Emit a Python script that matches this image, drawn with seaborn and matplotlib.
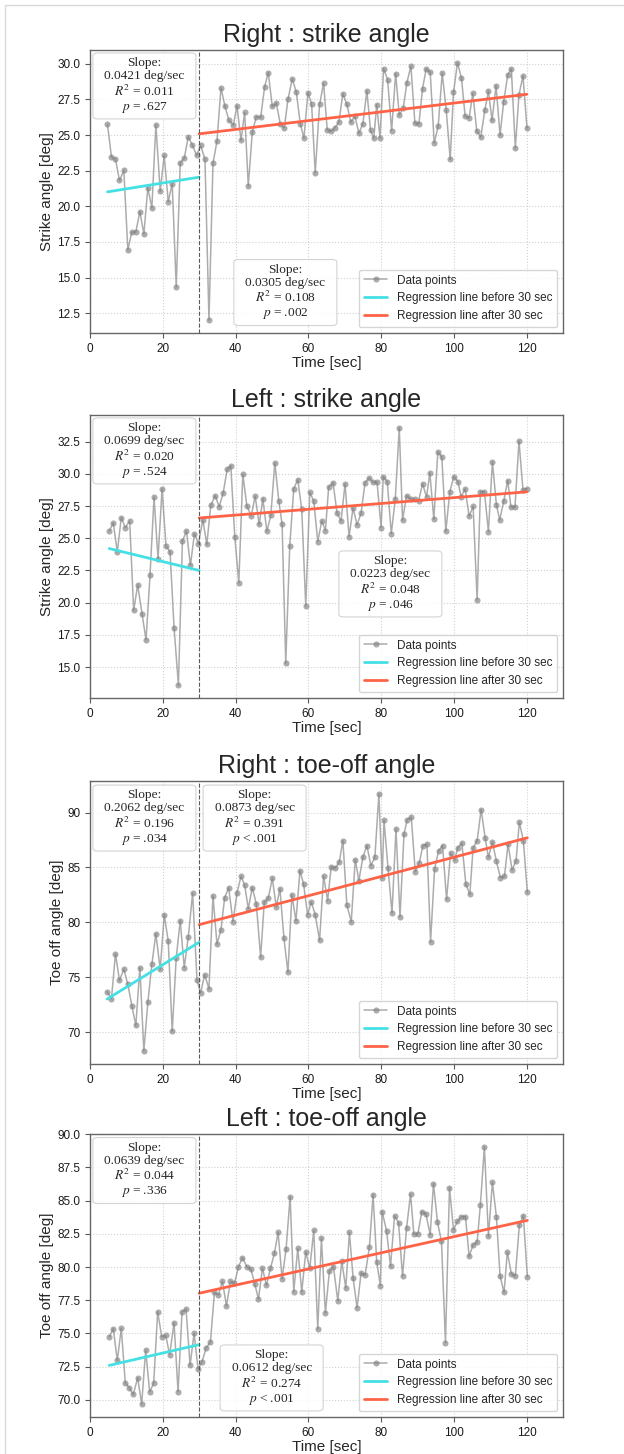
import numpy as np
import matplotlib
matplotlib.use('Agg')
import matplotlib.pyplot as plt
import matplotlib.patches as mpatches
import seaborn as sns

# values (time [sec], angle [deg])
right_strike_t = [4.8, 5.9, 7.0, 8.1, 9.3, 10.4, 11.5, 12.6, 13.7, 14.8, 15.9, 17.0, 18.1, 19.3, 20.4, 21.5,
                  22.6, 23.7, 24.8, 25.9, 27.0, 28.1, 29.3, 30.4,
                  31.6, 32.7, 33.8, 34.9, 36.0, 37.1, 38.2, 39.4, 40.4, 41.5, 42.5, 43.5, 44.6, 45.7, 46.9, 48.0,
                  49.0, 50.1, 51.2, 52.3, 53.4, 54.4, 55.6, 56.7, 57.8, 58.8, 59.9, 60.9, 61.9, 63.1, 64.2, 65.2,
                  66.3, 67.3, 68.4, 69.5, 70.6, 71.7, 72.8, 73.9, 75.0, 76.1, 77.1, 78.0, 78.8,
                  79.7, 80.7, 81.8, 82.9, 84.0, 85.0, 86.1, 87.1, 88.2, 89.3, 90.4, 91.4, 92.4, 93.5, 94.6, 95.7,
                  96.8, 97.9, 99.0, 99.9, 101.0, 102.1, 103.1, 104.2, 105.2, 106.3, 107.4, 108.5, 109.5, 110.5,
                  111.6, 112.7, 113.7, 114.8, 115.8, 116.9, 117.9, 119.0, 120.1]
right_strike = [25.75, 23.46, 23.32, 21.82, 22.52, 16.94, 18.2, 18.2, 19.63, 18.06, 21.3, 19.88, 25.72, 21.05,
                23.57, 20.33, 21.59, 14.32, 23.06, 23.36, 24.88, 24.32, 23.57, 24.28,
                23.29, 12.01, 23.01, 24.58, 28.32, 27.01, 26.03, 25.7, 27.06, 24.63, 26.59, 21.43, 25.19, 26.29,
                26.24, 28.39, 29.39, 27.01, 27.24, 25.79, 25.49, 27.5, 28.95, 28.01, 25.79, 24.79, 27.97, 27.2,
                22.34, 27.15, 28.64, 25.37, 25.26, 25.51, 25.91, 27.9, 27.15, 25.91, 26.33, 25.14, 25.79, 28.1,
                25.33, 24.79, 27.13,
                24.79, 29.67, 28.9, 25.3, 29.32, 26.4, 26.89, 28.69, 29.84, 25.84, 25.79, 28.27, 29.65, 29.42,
                24.44, 25.63, 29.35, 26.78, 23.29, 27.99, 30.07, 29.0, 26.33, 26.19, 27.94, 25.3, 24.84, 26.73,
                28.08, 26.03, 28.46, 24.98, 27.34, 29.21, 29.65, 24.09, 27.83, 29.16, 25.49]

left_strike_t = [5.3, 6.4, 7.5, 8.6, 9.7, 10.9, 12.0, 13.1, 14.3, 15.4, 16.5, 17.6, 18.7, 19.8, 20.9, 22.0,
                 23.1, 24.3, 25.4, 26.5, 27.6, 28.7, 29.8,
                 31.0, 32.1, 33.2, 34.4, 35.5, 36.6, 37.7, 38.7, 39.8, 40.9, 42.0, 43.1, 44.3, 45.4, 46.5, 47.5,
                 48.6, 49.7, 50.8, 51.9, 52.8, 53.8, 54.9, 56.0, 57.1, 58.2, 59.3, 60.4, 61.5, 62.6, 63.7, 64.7,
                 65.6, 66.8, 67.9, 69.0, 70.1, 71.2, 72.3, 73.4, 74.5, 75.6, 76.7, 77.8, 78.9, 80.0,
                 80.6, 81.7, 82.8, 83.9, 85.0, 85.9, 87.0, 88.1, 89.2, 90.3, 91.4, 92.5, 93.4, 94.5, 95.6, 96.7,
                 97.8, 98.9, 100.0, 101.1, 102.0, 103.1, 104.2, 105.3, 106.4, 107.3, 108.4, 109.5, 110.6, 111.7,
                 112.6, 113.7, 114.8, 115.7, 116.8, 117.9, 119.0, 120.1]
left_strike = [25.57, 26.2, 23.93, 26.61, 25.83, 26.35, 19.4, 21.38, 19.14, 17.11, 22.14, 28.18, 23.39, 28.83,
               24.38, 23.96, 18.07, 13.6, 24.77, 25.57, 22.89, 25.36, 24.58,
               26.43, 24.53, 27.55, 28.31, 27.45, 28.52, 30.34, 30.63, 25.08, 21.54, 29.97, 27.53, 26.74, 28.26,
               26.07, 28.07, 25.55, 26.77, 30.86, 27.86, 26.09, 15.31, 24.43, 28.83, 29.56, 27.24, 19.74, 28.57,
               27.89, 24.74, 26.35, 25.6, 28.98, 29.32, 26.95, 26.35, 29.22, 25.13, 27.34, 26.04, 26.95, 29.32,
               29.69, 29.35, 29.35, 25.83,
               29.79, 29.4, 25.36, 28.02, 33.57, 26.41, 28.31, 28.05, 28.02, 27.89, 29.24, 28.2, 30.08, 26.48,
               31.72, 31.3, 25.55, 28.62, 29.79, 29.4, 28.23, 28.83, 26.72, 27.47, 20.21, 28.62, 28.62, 25.52,
               30.94, 27.6, 26.43, 27.86, 29.48, 27.42, 27.42, 32.55, 28.75, 28.85]

right_toe_t = [4.7, 5.9, 7.0, 8.1, 9.3, 10.4, 11.5, 12.6, 13.7, 14.8, 15.9, 17.0, 18.1, 19.3, 20.4, 21.5,
               22.6, 23.7, 24.8, 25.9, 27.0, 28.2, 29.4,
               30.4, 31.5, 32.7, 33.8, 34.9, 36.0, 37.0, 38.1, 39.3, 40.4, 41.5, 42.5, 43.5, 44.6, 45.7, 46.9,
               47.9, 49.0, 50.1, 51.2, 52.2, 53.3, 54.4, 55.5, 56.6, 57.7, 58.7, 59.8, 60.8, 61.9, 63.1, 64.2,
               65.3, 66.3, 67.4, 68.5, 69.5, 70.6, 71.8, 72.9, 73.9, 75.0, 76.1, 77.2, 78.3, 79.4, 80.3,
               80.8, 81.9, 83.0, 84.1, 85.2, 86.3, 87.2, 88.3, 89.4, 90.5, 91.5, 92.6, 93.6, 94.7, 95.8, 96.9,
               98.0, 99.1, 100.2, 101.1, 102.2, 103.3, 104.4, 105.3, 106.4, 107.5, 108.6, 109.5, 110.6, 111.7,
               112.8, 113.9, 114.9, 116.0, 117.1, 118.0, 119.1, 120.2]
right_toe = [73.68, 73.04, 77.14, 74.71, 75.74, 74.35, 72.4, 70.61, 75.87, 68.27, 72.71, 76.17, 78.97, 75.71,
             80.7, 78.3, 70.06, 76.78, 80.15, 75.87, 78.63, 82.67, 74.77,
             73.56, 75.23, 73.95, 82.4, 78.02, 79.33, 82.22, 83.16, 80.06, 82.67, 84.19, 83.4, 81.25, 83.16,
             81.7, 76.84, 81.85, 82.19, 84.01, 81.4, 83.07, 78.57, 75.44, 82.52, 80.12, 84.71, 83.5, 80.7,
             81.85, 80.7, 78.36, 84.22, 81.98, 85.05, 84.95, 85.47, 87.45, 81.58, 80.06, 85.71, 83.8, 85.93,
             86.99, 85.17, 85.93, 91.7, 84.01,
             89.3, 84.98, 80.85, 88.51, 80.49, 88.05, 89.36, 89.57, 84.59, 85.41, 86.99, 87.11, 78.21, 84.86,
             86.5, 86.99, 82.1, 86.32, 85.68, 86.81, 87.23, 83.47, 82.55, 86.81, 87.42, 90.27, 87.69, 85.93,
             87.33, 85.56, 84.07, 84.19, 87.11, 84.77, 85.62, 89.12, 87.45, 82.77]

left_toe_t = [5.3, 6.4, 7.5, 8.6, 9.7, 10.8, 11.9, 13.1, 14.2, 15.3, 16.4, 17.5, 18.6, 19.7, 20.8, 21.9,
              23.1, 24.2, 25.3, 26.4, 27.5, 28.6, 29.7,
              30.8, 31.9, 33.1, 34.2, 35.3, 36.4, 37.5, 38.6, 39.7, 40.8, 41.9, 43.1, 44.2, 45.3, 46.3, 47.4,
              48.5, 49.6, 50.7, 51.7, 52.8, 53.9, 55.0, 56.0, 57.1, 58.2, 59.3, 60.4, 61.5, 62.6, 63.6, 64.7,
              65.8, 66.9, 68.1, 69.2, 70.3, 71.3, 72.3, 73.4, 74.5, 75.6, 76.8, 77.8, 78.8, 79.8,
              80.3, 81.5, 82.6, 83.7, 84.8, 85.9, 87.0, 88.1, 89.0, 90.1, 91.2, 92.3, 93.5, 94.4, 95.5, 96.6,
              97.7, 98.8, 99.9, 101.0, 102.1, 103.2, 104.2, 105.3, 106.4, 107.3, 108.4, 109.5, 110.6, 111.7,
              112.7, 113.8, 114.7, 115.8, 116.9, 118.0, 119.1, 120.2]
left_toe = [74.75, 75.35, 72.96, 75.38, 71.28, 70.9, 70.4, 71.66, 69.67, 73.74, 70.6, 71.23, 76.63, 74.75,
            74.85, 73.39, 75.8, 70.6, 76.63, 76.83, 72.59, 75.0, 72.31,
            72.86, 73.89, 74.35, 78.09, 77.89, 78.92, 77.06, 78.92, 78.77, 80.0, 80.7, 80.03, 79.85, 78.72,
            77.59, 79.9, 78.62, 79.9, 81.06, 82.61, 79.1, 81.38, 85.3, 78.14, 81.41, 78.12, 81.13, 79.9,
            82.76, 75.33, 82.16, 76.53, 79.72, 80.03, 77.46, 80.43, 78.42, 82.61, 79.2, 76.91, 79.55, 79.37,
            81.53, 85.45, 80.4, 78.59,
            84.17, 82.74, 80.05, 83.87, 83.34, 79.3, 82.91, 85.5, 82.49, 82.49, 84.17, 84.02, 82.44, 86.28,
            83.39, 81.93, 74.3, 85.98, 82.81, 83.44, 83.79, 83.79, 80.8, 81.68, 81.88, 84.7, 89.05, 82.31,
            86.38, 83.77, 79.32, 78.09, 81.13, 79.5, 79.32, 83.14, 83.87, 79.27]

titles = ['Right : strike angle', 'Left : strike angle', 'Right : toe-off angle', 'Left : toe-off angle']
ylabels = ['Strike angle [deg]', 'Strike angle [deg]', 'Toe off angle [deg]', 'Toe off angle [deg]']
slope_txt = [('0.0421', '0.0305'), ('0.0699', '0.0223'), ('0.2062', '0.0873'), ('0.0639', '0.0612')]
r2_txt = [('0.011', '0.108'), ('0.020', '0.048'), ('0.196', '0.391'), ('0.044', '0.274')]
p_txt = [('= .627', '= .002'), ('= .524', '= .046'), ('= .034', '< .001'), ('= .336', '< .001')]
split_sec = 30

series = [(right_strike_t, right_strike), (left_strike_t, left_strike),
          (right_toe_t, right_toe), (left_toe_t, left_toe)]

# layout (pixels of a 624x1454 canvas)
W, H = 624, 1454
ax_tops = [50, 415, 781, 1134]
ax_h = 283
ax_left, ax_w = 90, 473
box_pos = [((0.115, 0.873), (0.413, 0.143)),
           ((0.115, 0.873), (0.635, 0.403)),
           ((0.115, 0.869), (0.348, 0.869)),
           ((0.115, 0.871), (0.384, 0.138))]
box_w, box_h = 103 / ax_w, 66 / ax_h

sns.set_style('ticks')
plt.rcParams['font.family'] = ['Liberation Sans', 'DejaVu Sans']
plt.rcParams['mathtext.fontset'] = 'stix'

fig = plt.figure(figsize=(W / 100, H / 100), dpi=100)
fig.patches.append(mpatches.Rectangle((4.5 / W, -0.1), 1.2, 1 - 5 / H + 0.1, transform=fig.transFigure,
                                      fill=False, ec='0.85', lw=1))

pre_col, post_col, pt_col = '#45e0e3', 'tomato', 'gray'

for i, (t, v) in enumerate(series):
    rect = [ax_left / W, 1 - (ax_tops[i] + ax_h) / H, ax_w / W, ax_h / H]
    ax = fig.add_axes(rect)
    t = np.asarray(t)
    v = np.asarray(v)

    sns.lineplot(x=t, y=v, ax=ax, color=pt_col, alpha=0.65, lw=1.1, marker='o', markersize=4.4,
                 markeredgewidth=0, estimator=None, sort=False, label='Data points')

    pre = t < split_sec
    post = ~pre
    b1 = np.polyfit(t[pre], v[pre], 1)
    b2 = np.polyfit(t[post], v[post], 1)
    x1 = np.array([t[pre].min(), split_sec])
    x2 = np.array([split_sec, t[post].max()])
    sns.lineplot(x=x1, y=np.polyval(b1, x1), ax=ax, color=pre_col, lw=2,
                 label='Regression line before 30 sec')
    sns.lineplot(x=x2, y=np.polyval(b2, x2), ax=ax, color=post_col, lw=2,
                 label='Regression line after 30 sec')
    ax.axvline(split_sec, color='0.35', ls='--', lw=0.8)

    ax.set_xlim(0, 130)
    ax.set_title(titles[i], fontsize=18, pad=6)
    ax.set_xlabel('Time [sec]', fontsize=11, labelpad=1)
    ax.set_ylabel(ylabels[i], fontsize=11, labelpad=2)
    ax.grid(True, ls=':', color='0.82', lw=0.8)
    ax.tick_params(labelsize=8.5, length=3.5, width=0.8, color='0.35', labelcolor='0.1')
    for sp in ax.spines.values():
        sp.set_visible(True)
        sp.set_color('0.4')
        sp.set_linewidth(1)

    for k in range(2):
        cx, cy = box_pos[i][k]
        ax.add_patch(mpatches.FancyBboxPatch((cx - box_w / 2, cy - box_h / 2), box_w, box_h,
                                             boxstyle='round,pad=0,rounding_size=0.01',
                                             transform=ax.transAxes, fc='white', ec='0.8',
                                             lw=0.8, alpha=0.85, zorder=5))
        txt = ('Slope:\n' + slope_txt[i][k] + ' deg/sec\n' + r'$R^2$ = ' + r2_txt[i][k]
               + '\n' + r'$p$ ' + p_txt[i][k])
        ax.text(cx, cy, txt, transform=ax.transAxes, ha='center', va='center', ma='center',
                fontsize=9.6, family='Liberation Serif', linespacing=1.12, zorder=6)

    ax.legend(loc='lower right', fontsize=8.5)

fig.savefig('out.png', dpi=100)
